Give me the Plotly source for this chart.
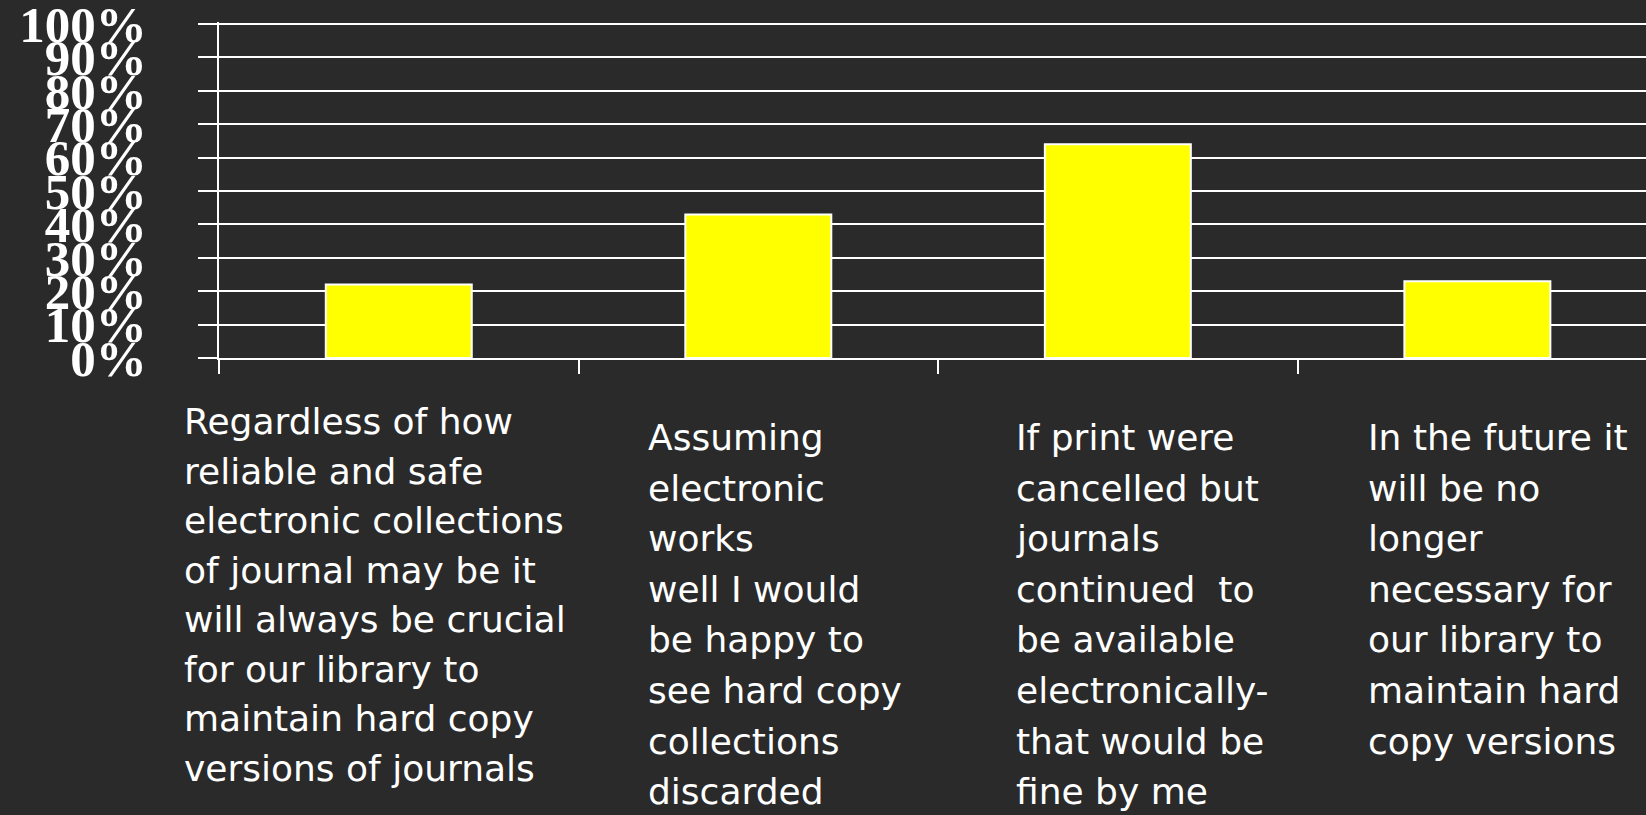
import plotly.graph_objects as go

# survey statements (one list of lines per category, as wrapped on the slide)
label_lines = [
    ["Regardless of how", "reliable and safe", "electronic collections",
     "of journal may be it", "will always be crucial", "for our library to",
     "maintain hard copy", "versions of journals"],
    ["Assuming", "electronic", "works", "well I would", "be happy to",
     "see hard copy", "collections", "discarded"],
    ["If print were", "cancelled but", "journals", "continued\u00a0 to",
     "be available", "electronically-", "that would be", "fine by me"],
    ["In the future it", "will be no", "longer", "necessary for",
     "our library to", "maintain hard", "copy versions"],
]
categories = [" ".join(lines) for lines in label_lines]
values = [22, 43, 64, 23]

y_tickvals = [0, 10, 20, 30, 40, 50, 60, 70, 80, 90, 100]
y_ticktext = ["0%", "10%", "20%", "30%", "40%", "50%", "60%", "70%", "80%", "90%", "100%"]

BG = "#2a2a2a"

fig = go.Figure(
    go.Bar(
        x=categories,
        y=values,
        width=0.406,
        marker=dict(color="#ffff00", line=dict(color="white", width=2)),
    )
)

# label placement (pixels, relative to category centre / plot bottom)
label_xshift = [-217, -112, -104, -111]
label_top = [41, 57, 57, 57]
line_step = [49.5, 50.6, 50.6, 50.6]

for i, lines in enumerate(label_lines):
    for j, line in enumerate(lines):
        fig.add_annotation(
            x=categories[i],
            xref="x",
            y=0,
            yref="paper",
            text=line,
            showarrow=False,
            xanchor="left",
            yanchor="top",
            align="left",
            xshift=label_xshift[i],
            yshift=-(label_top[i] + j * line_step[i]),
            font=dict(family="DejaVu Sans", size=36, color="white"),
        )

fig.update_xaxes(
    type="category",
    range=[-0.5, 3.469],
    showticklabels=False,
    ticks="outside",
    tickson="boundaries",
    ticklen=14,
    tickwidth=2,
    tickcolor="white",
    showline=True,
    linecolor="white",
    linewidth=2,
    showgrid=False,
    automargin=False,
)

fig.update_yaxes(
    range=[0, 100.6],
    tickvals=y_tickvals,
    ticktext=y_ticktext,
    tickfont=dict(family="Liberation Serif, Times New Roman", size=51,
                  color="white", weight="bold"),
    ticks="outside",
    ticklen=19,
    tickwidth=2,
    tickcolor="white",
    ticklabelstandoff=41,
    ticklabeloverflow="allow",
    showline=True,
    linecolor="white",
    linewidth=2,
    showgrid=True,
    gridcolor="white",
    gridwidth=2,
    zeroline=False,
    automargin=False,
)

fig.update_layout(
    width=1646,
    height=815,
    margin=dict(l=219, r=0, t=22, b=457),
    plot_bgcolor=BG,
    paper_bgcolor=BG,
    showlegend=False,
    template="none",
)

fig.write_html(
    "out.html",
    config={"displayModeBar": False},
    post_script="document.body.style.margin='0';document.body.style.background='%s';" % BG,
)
